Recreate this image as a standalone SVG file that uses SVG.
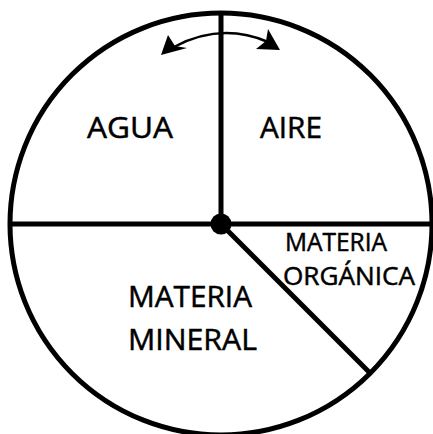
<svg xmlns="http://www.w3.org/2000/svg" width="433" height="434" viewBox="0 0 433 434">
<defs>
<style>
.ln{stroke:#000;stroke-width:5;fill:none}
.t{font-family:"Open Sans","Liberation Sans",sans-serif;fill:#000;stroke:#000;stroke-width:0.5}
</style>
</defs>
<rect width="433" height="434" fill="#fff"/>
<g id="connectors">
<circle class="ln" cx="221" cy="224" r="211"/>
<line class="ln" x1="221" y1="13" x2="221" y2="224"/>
<line class="ln" x1="10" y1="224" x2="432" y2="224"/>
<line class="ln" x1="221" y1="224" x2="370" y2="373"/>
<circle cx="221" cy="224" r="10.5" fill="#000"/>
<path d="M174,47 Q221,22 268,42" stroke="#000" stroke-width="2.5" fill="none"/>
<path d="M161,55 L168,35 L175,46 L187,48 Z" fill="#000"/>
<path d="M280,50 L256,49 L266,41 L268,29 Z" fill="#000"/>
</g>
<g id="agua"><text class="t" x="87" y="138" font-size="29" textLength="86" lengthAdjust="spacingAndGlyphs">AGUA</text></g>
<g id="aire"><text class="t" x="260" y="138" font-size="29" textLength="62" lengthAdjust="spacingAndGlyphs">AIRE</text></g>
<g id="organica">
<text class="t" x="285" y="251" font-size="26" textLength="102" lengthAdjust="spacingAndGlyphs">MATERIA</text>
<text class="t" x="283" y="285" font-size="26" textLength="132" lengthAdjust="spacingAndGlyphs">ORGÁNICA</text>
</g>
<g id="mineral">
<text class="t" x="128" y="307" font-size="30" textLength="124" lengthAdjust="spacingAndGlyphs">MATERIA</text>
<text class="t" x="128" y="350" font-size="30" textLength="129" lengthAdjust="spacingAndGlyphs">MINERAL</text>
</g>
</svg>
